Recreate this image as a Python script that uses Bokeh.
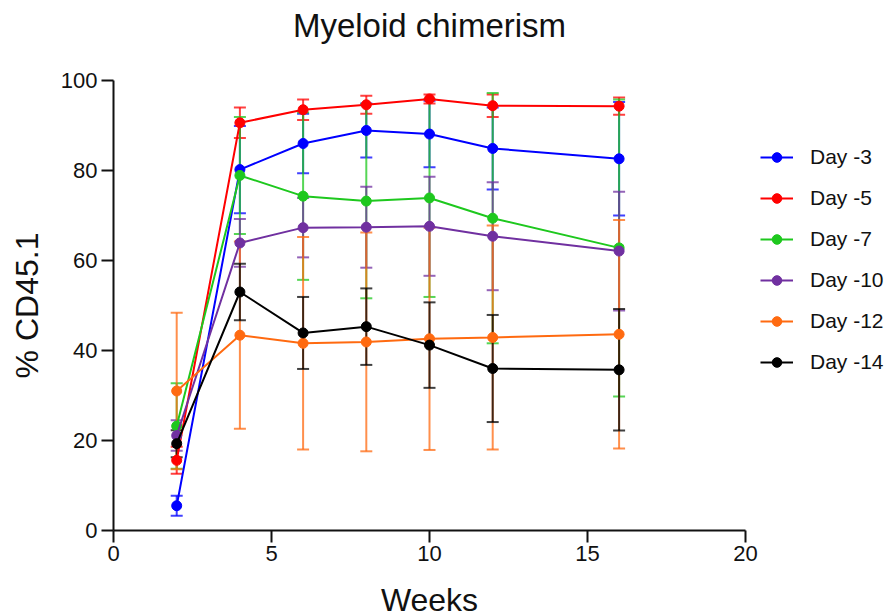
from bokeh.plotting import figure
from bokeh.models import (ColumnDataSource, Whisker, TeeHead, Legend, LegendItem,
                          FixedTicker, Range1d, Title)
from bokeh.embed import file_html
from bokeh.resources import INLINE

weeks = [2, 4, 6, 8, 10, 12, 16]

series_names = ["Day -3", "Day -5", "Day -7", "Day -10", "Day -12", "Day -14"]
series_colors = ["#0000FF", "#FF0000", "#1EC81E", "#7030A0", "#FF6A10", "#000000"]

day3 = [5.5, 80.2, 86.0, 88.9, 88.1, 84.9, 82.6]
day3_err = [2.2, 9.7, 6.6, 6.0, 7.4, 9.1, 12.6]
day5 = [15.6, 90.6, 93.5, 94.6, 95.9, 94.4, 94.3]
day5_err = [3.0, 3.4, 2.3, 2.0, 1.0, 2.5, 1.9]
day7 = [23.2, 78.9, 74.3, 73.2, 73.9, 69.4, 62.8]
day7_err = [9.5, 13.0, 18.6, 21.6, 22.0, 27.8, 33.0]
day10 = [21.1, 63.9, 67.3, 67.4, 67.6, 65.4, 62.1]
day10_err = [3.4, 5.3, 6.6, 9.0, 11.0, 12.0, 13.2]
day12 = [31.0, 43.4, 41.6, 41.9, 42.6, 42.9, 43.6]
day12_err = [17.4, 20.8, 23.6, 24.3, 24.7, 24.9, 25.4]
day14 = [19.3, 53.0, 43.9, 45.3, 41.2, 36.0, 35.7]
day14_err = [3.0, 6.3, 8.0, 8.5, 9.5, 11.9, 13.5]

means = [day3, day5, day7, day10, day12, day14]
errs = [day3_err, day5_err, day7_err, day10_err, day12_err, day14_err]

x_ticks = [0, 5, 10, 15, 20]
y_ticks = [0, 20, 40, 60, 80, 100]

title_text = "Myeloid chimerism"
FONT = "Liberation Sans"

p = figure(frame_width=632, frame_height=450,
           x_range=Range1d(0, 20), y_range=Range1d(0, 100),
           output_backend="svg", toolbar_location=None,
           min_border_left=113, min_border_right=136,
           min_border_top=80, min_border_bottom=84)

p.outline_line_color = None
p.xgrid.visible = False
p.ygrid.visible = False
p.background_fill_color = "white"
p.border_fill_color = "white"

# spacer between frame and title (closest to the frame), then the title itself
p.add_layout(Title(text=" ", text_font_size="1px", standoff=34), "above")
p.add_layout(Title(text=title_text, align="center", standoff=0,
                   text_font=FONT, text_font_size="33px",
                   text_font_style="normal", text_color="#111111"), "above")

for ax in (p.xaxis[0], p.yaxis[0]):
    ax.axis_line_width = 2
    ax.axis_line_color = "#111111"
    ax.major_tick_line_width = 2
    ax.major_tick_line_color = "#111111"
    ax.major_tick_out = 12
    ax.major_tick_in = 0
    ax.minor_tick_line_color = None
    ax.major_label_text_font = FONT
    ax.major_label_text_font_size = "22px"
    ax.major_label_text_color = "#111111"
    ax.axis_label_text_font = FONT
    ax.axis_label_text_font_size = "32px"
    ax.axis_label_text_font_style = "normal"
    ax.axis_label_text_color = "#111111"

p.xaxis.ticker = FixedTicker(ticks=x_ticks)
p.yaxis.ticker = FixedTicker(ticks=y_ticks)
p.xaxis.axis_label = "Weeks"
p.yaxis.axis_label = "% CD45.1"
p.xaxis.major_label_standoff = 3
p.xaxis.axis_label_standoff = 18
p.yaxis.major_label_standoff = 4
p.yaxis.axis_label_standoff = 13

items = []
for name, col, m, e in zip(series_names, series_colors, means, errs):
    src = ColumnDataSource(dict(
        x=weeks, y=m,
        upper=[a + b for a, b in zip(m, e)],
        lower=[a - b for a, b in zip(m, e)],
    ))
    w = Whisker(base="x", upper="upper", lower="lower", source=src,
                line_color=col, line_width=2, line_alpha=0.75,
                upper_head=TeeHead(size=12, line_color=col, line_width=2, line_alpha=0.75),
                lower_head=TeeHead(size=12, line_color=col, line_width=2, line_alpha=0.75))
    p.add_layout(w)
    r1 = p.line("x", "y", source=src, line_color=col, line_width=2)
    r2 = p.scatter("x", "y", source=src, marker="circle", size=10,
                   fill_color=col, line_color=col)
    items.append(LegendItem(label=name, renderers=[r1, r2]))

legend = Legend(items=items, location=(15, 156), orientation="vertical")
legend.margin = 0
legend.padding = 0
legend.spacing = 17
legend.glyph_width = 33
legend.glyph_height = 24
legend.label_height = 24
legend.label_standoff = 17
legend.label_text_font = FONT
legend.label_text_font_size = "21px"
legend.label_text_color = "#111111"
legend.border_line_color = None
legend.background_fill_alpha = 0
p.add_layout(legend, "right")

open("out.html", "w").write(file_html(p, INLINE))
